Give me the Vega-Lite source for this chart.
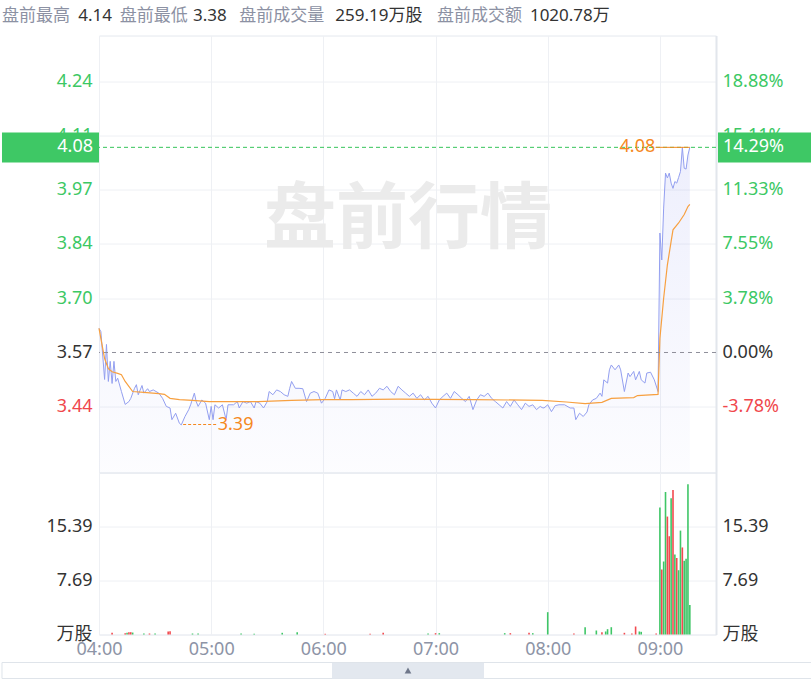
{
  "$schema": "https://vega.github.io/schema/vega-lite/v6.json",
  "background": "#ffffff",
  "padding": {"left": 0, "top": 5.5, "right": 0, "bottom": 6},
  "bounds": "flush",
  "spacing": 0,
  "config": {
    "view": {"stroke": "#e4e8ee", "strokeWidth": 1},
    "font": "'Noto Sans', 'Noto Sans CJK SC', sans-serif",
    "axis": {"domain": false, "ticks": false, "tickSize": 0, "gridColor": "#eef0f4", "gridWidth": 1, "labelFontSize": 18, "labelFont": "'Noto Sans', 'Noto Sans CJK SC', sans-serif"},
    "text": {"font": "'Noto Sans', 'Noto Sans CJK SC', sans-serif"}
  },
  "datasets": {
    "price": [
      {"time":"04:00","price":3.630},{"time":"04:01","price":3.622},{"time":"04:03","price":3.503},{"time":"04:04","price":3.590},{"time":"04:05","price":3.498},{"time":"04:06","price":3.548},{"time":"04:07","price":3.493},{"time":"04:08","price":3.548},{"time":"04:09","price":3.498},{"time":"04:10","price":3.506},{"time":"04:12","price":3.473},{"time":"04:14","price":3.441},{"time":"04:16","price":3.448},{"time":"04:17","price":3.456},{"time":"04:19","price":3.481},{"time":"04:20","price":3.490},{"time":"04:21","price":3.465},{"time":"04:23","price":3.488},{"time":"04:24","price":3.469},{"time":"04:26","price":3.480},{"time":"04:27","price":3.473},{"time":"04:29","price":3.477},{"time":"04:32","price":3.469},{"time":"04:34","price":3.456},{"time":"04:36","price":3.436},{"time":"04:38","price":3.432},{"time":"04:39","price":3.403},{"time":"04:41","price":3.419},{"time":"04:43","price":3.394},{"time":"04:44","price":3.390},{"time":"04:46","price":3.411},{"time":"04:48","price":3.428},{"time":"04:49","price":3.440},{"time":"04:51","price":3.469},{"time":"04:52","price":3.448},{"time":"04:53","price":3.436},{"time":"04:55","price":3.452},{"time":"04:57","price":3.444},{"time":"04:59","price":3.403},{"time":"05:00","price":3.436},{"time":"05:01","price":3.403},{"time":"05:02","price":3.440},{"time":"05:04","price":3.432},{"time":"05:06","price":3.440},{"time":"05:08","price":3.403},{"time":"05:09","price":3.440},{"time":"05:12","price":3.440},{"time":"05:14","price":3.448},{"time":"05:15","price":3.432},{"time":"05:17","price":3.448},{"time":"05:19","price":3.444},{"time":"05:21","price":3.448},{"time":"05:23","price":3.432},{"time":"05:24","price":3.448},{"time":"05:26","price":3.444},{"time":"05:28","price":3.432},{"time":"05:30","price":3.448},{"time":"05:31","price":3.473},{"time":"05:33","price":3.465},{"time":"05:35","price":3.477},{"time":"05:37","price":3.473},{"time":"05:39","price":3.465},{"time":"05:41","price":3.461},{"time":"05:42","price":3.481},{"time":"05:43","price":3.498},{"time":"05:45","price":3.481},{"time":"05:47","price":3.481},{"time":"05:49","price":3.480},{"time":"05:51","price":3.448},{"time":"05:53","price":3.469},{"time":"05:55","price":3.473},{"time":"05:57","price":3.469},{"time":"05:59","price":3.444},{"time":"06:01","price":3.456},{"time":"06:03","price":3.477},{"time":"06:05","price":3.473},{"time":"06:06","price":3.455},{"time":"06:07","price":3.477},{"time":"06:09","price":3.452},{"time":"06:10","price":3.477},{"time":"06:12","price":3.473},{"time":"06:14","price":3.477},{"time":"06:16","price":3.469},{"time":"06:18","price":3.461},{"time":"06:20","price":3.473},{"time":"06:22","price":3.465},{"time":"06:24","price":3.477},{"time":"06:26","price":3.461},{"time":"06:28","price":3.469},{"time":"06:30","price":3.481},{"time":"06:32","price":3.477},{"time":"06:34","price":3.486},{"time":"06:36","price":3.473},{"time":"06:38","price":3.465},{"time":"06:40","price":3.486},{"time":"06:42","price":3.477},{"time":"06:44","price":3.469},{"time":"06:46","price":3.461},{"time":"06:48","price":3.469},{"time":"06:50","price":3.456},{"time":"06:52","price":3.465},{"time":"06:54","price":3.452},{"time":"06:56","price":3.461},{"time":"06:58","price":3.444},{"time":"07:00","price":3.432},{"time":"07:02","price":3.452},{"time":"07:04","price":3.461},{"time":"07:06","price":3.469},{"time":"07:08","price":3.456},{"time":"07:10","price":3.473},{"time":"07:12","price":3.465},{"time":"07:14","price":3.456},{"time":"07:16","price":3.448},{"time":"07:18","price":3.461},{"time":"07:20","price":3.428},{"time":"07:22","price":3.452},{"time":"07:24","price":3.465},{"time":"07:26","price":3.461},{"time":"07:28","price":3.469},{"time":"07:30","price":3.456},{"time":"07:32","price":3.448},{"time":"07:34","price":3.440},{"time":"07:36","price":3.432},{"time":"07:38","price":3.448},{"time":"07:40","price":3.436},{"time":"07:42","price":3.452},{"time":"07:44","price":3.440},{"time":"07:46","price":3.428},{"time":"07:48","price":3.444},{"time":"07:50","price":3.436},{"time":"07:52","price":3.440},{"time":"07:54","price":3.428},{"time":"07:56","price":3.436},{"time":"07:57","price":3.433},{"time":"07:58","price":3.432},{"time":"08:00","price":3.440},{"time":"08:02","price":3.423},{"time":"08:04","price":3.438},{"time":"08:06","price":3.440},{"time":"08:09","price":3.440},{"time":"08:12","price":3.432},{"time":"08:14","price":3.432},{"time":"08:15","price":3.403},{"time":"08:17","price":3.419},{"time":"08:19","price":3.411},{"time":"08:21","price":3.422},{"time":"08:22","price":3.440},{"time":"08:24","price":3.452},{"time":"08:26","price":3.456},{"time":"08:28","price":3.469},{"time":"08:29","price":3.461},{"time":"08:30","price":3.502},{"time":"08:32","price":3.494},{"time":"08:33","price":3.527},{"time":"08:34","price":3.539},{"time":"08:36","price":3.527},{"time":"08:38","price":3.539},{"time":"08:39","price":3.527},{"time":"08:41","price":3.473},{"time":"08:43","price":3.519},{"time":"08:44","price":3.510},{"time":"08:46","price":3.523},{"time":"08:47","price":3.502},{"time":"08:49","price":3.523},{"time":"08:50","price":3.502},{"time":"08:52","price":3.494},{"time":"08:53","price":3.519},{"time":"08:55","price":3.521},{"time":"08:57","price":3.502},{"time":"08:59","price":3.473},{"time":"09:00","price":3.867},{"time":"09:01","price":3.800},{"time":"09:02","price":3.929},{"time":"09:03","price":4.016},{"time":"09:04","price":4.004},{"time":"09:05","price":4.016},{"time":"09:06","price":3.991},{"time":"09:07","price":3.978},{"time":"09:08","price":3.995},{"time":"09:09","price":3.991},{"time":"09:10","price":4.005},{"time":"09:11","price":4.020},{"time":"09:12","price":4.080},{"time":"09:13","price":4.028},{"time":"09:14","price":4.026},{"time":"09:15","price":4.061},{"time":"09:16","price":4.080}
    ],
    "avg": [
      {"time":"04:00","avg":3.630},{"time":"04:03","avg":3.555},{"time":"04:05","avg":3.530},{"time":"04:07","avg":3.522},{"time":"04:10","avg":3.518},{"time":"04:12","avg":3.515},{"time":"04:14","avg":3.498},{"time":"04:18","avg":3.473},{"time":"04:24","avg":3.471},{"time":"04:32","avg":3.468},{"time":"04:35","avg":3.466},{"time":"04:38","avg":3.456},{"time":"04:43","avg":3.453},{"time":"04:50","avg":3.451},{"time":"04:59","avg":3.448},{"time":"05:25","avg":3.448},{"time":"05:43","avg":3.451},{"time":"06:00","avg":3.453},{"time":"06:15","avg":3.453},{"time":"06:40","avg":3.454},{"time":"07:20","avg":3.453},{"time":"07:57","avg":3.451},{"time":"08:10","avg":3.447},{"time":"08:20","avg":3.443},{"time":"08:29","avg":3.446},{"time":"08:34","avg":3.456},{"time":"08:46","avg":3.458},{"time":"08:48","avg":3.463},{"time":"08:59","avg":3.466},{"time":"09:00","avg":3.605},{"time":"09:02","avg":3.705},{"time":"09:04","avg":3.788},{"time":"09:06","avg":3.846},{"time":"09:07","avg":3.875},{"time":"09:10","avg":3.892},{"time":"09:13","avg":3.913},{"time":"09:15","avg":3.933},{"time":"09:16","avg":3.938}
    ],
    "vol": [
      {"time":"04:07","vol":0.24,"dir":"up"},{"time":"04:14","vol":0.19,"dir":"up"},{"time":"04:15","vol":0.24,"dir":"down"},{"time":"04:16","vol":0.33,"dir":"up"},{"time":"04:17","vol":0.33,"dir":"up"},{"time":"04:18","vol":0.28,"dir":"down"},{"time":"04:24","vol":0.14,"dir":"down"},{"time":"04:27","vol":0.14,"dir":"up"},{"time":"04:30","vol":0.14,"dir":"down"},{"time":"04:37","vol":0.43,"dir":"up"},{"time":"04:38","vol":0.47,"dir":"up"},{"time":"04:50","vol":0.14,"dir":"down"},{"time":"04:53","vol":0.14,"dir":"down"},{"time":"05:16","vol":0.14,"dir":"down"},{"time":"05:23","vol":0.10,"dir":"down"},{"time":"05:38","vol":0.24,"dir":"down"},{"time":"05:46","vol":0.33,"dir":"down"},{"time":"06:01","vol":0.10,"dir":"up"},{"time":"06:25","vol":0.10,"dir":"up"},{"time":"06:32","vol":0.24,"dir":"up"},{"time":"06:56","vol":0.14,"dir":"down"},{"time":"07:00","vol":0.19,"dir":"up"},{"time":"07:02","vol":0.19,"dir":"down"},{"time":"07:37","vol":0.19,"dir":"down"},{"time":"07:40","vol":0.19,"dir":"up"},{"time":"07:50","vol":0.24,"dir":"up"},{"time":"07:52","vol":0.19,"dir":"down"},{"time":"08:00","vol":3.18,"dir":"down"},{"time":"08:14","vol":0.14,"dir":"up"},{"time":"08:20","vol":1.04,"dir":"down"},{"time":"08:26","vol":0.57,"dir":"down"},{"time":"08:29","vol":0.33,"dir":"up"},{"time":"08:31","vol":0.43,"dir":"down"},{"time":"08:32","vol":0.76,"dir":"down"},{"time":"08:34","vol":1.04,"dir":"down"},{"time":"08:41","vol":0.24,"dir":"up"},{"time":"08:45","vol":0.14,"dir":"up"},{"time":"08:47","vol":1.14,"dir":"up"},{"time":"08:49","vol":0.43,"dir":"down"},{"time":"08:50","vol":0.38,"dir":"down"},{"time":"08:58","vol":0.14,"dir":"up"},
      {"time":"09:00","vol":18.1,"dir":"down"},{"time":"09:01","vol":9.26,"dir":"up"},{"time":"09:02","vol":10.4,"dir":"down"},{"time":"09:03","vol":20.3,"dir":"down"},{"time":"09:04","vol":16.8,"dir":"up"},{"time":"09:05","vol":14.0,"dir":"up"},{"time":"09:06","vol":19.4,"dir":"down"},{"time":"09:07","vol":20.6,"dir":"up"},{"time":"09:08","vol":11.4,"dir":"down"},{"time":"09:09","vol":10.9,"dir":"up"},{"time":"09:10","vol":9.16,"dir":"down"},{"time":"09:11","vol":14.8,"dir":"down"},{"time":"09:12","vol":12.4,"dir":"up"},{"time":"09:13","vol":10.5,"dir":"down"},{"time":"09:14","vol":10.8,"dir":"down"},{"time":"09:15","vol":21.4,"dir":"down"},{"time":"09:16","vol":4.2,"dir":"down"}
    ]
  },
  "vconcat": [
    {
      "width": 617,
      "height": 437,
      "resolve": {"axis": {"y": "independent"}},
      "layer": [
        {
          "data": {"values": [{}]},
          "mark": {"type": "text", "text": "盘前行情", "fontSize": 72, "fontWeight": "bold", "color": "#ebebeb", "align": "center", "baseline": "middle", "font": "'Noto Sans CJK SC', sans-serif"},
          "encoding": {
            "x": {"datum": {"year": 1900, "month": 1, "date": 1, "hours": 6, "minutes": 45, "seconds": 16}, "type": "temporal",
              "scale": {"domain": [{"year": 1900, "month": 1, "date": 1, "hours": 4, "minutes": 0}, {"year": 1900, "month": 1, "date": 1, "hours": 9, "minutes": 30}], "nice": false, "padding": 0},
              "axis": {"labels": false, "grid": true, "title": null,
                "values": [{"year": 1900, "month": 1, "date": 1, "hours": 4}, {"year": 1900, "month": 1, "date": 1, "hours": 5}, {"year": 1900, "month": 1, "date": 1, "hours": 6}, {"year": 1900, "month": 1, "date": 1, "hours": 7}, {"year": 1900, "month": 1, "date": 1, "hours": 8}, {"year": 1900, "month": 1, "date": 1, "hours": 9}]}},
            "y": {"datum": 3.9006, "type": "quantitative", "scale": {"domain": [3.2717, 4.358], "nice": false, "zero": false, "padding": 0}, "axis": null}
          }
        },
        {
          "data": {"name": "price", "format": {"parse": {"time": "date:'%H:%M'"}}},
          "resolve": {"axis": {"y": "independent"}},
          "layer": [
            {
              "mark": {"type": "area", "color": {"gradient": "linear", "x1": 0, "y1": 0, "x2": 0, "y2": 1, "stops": [{"offset": 0, "color": "rgba(120,130,235,0.13)"}, {"offset": 1, "color": "rgba(120,130,235,0.02)"}]}},
              "encoding": {
                "x": {"field": "time", "type": "temporal",
                  "scale": {"domain": [{"year": 1900, "month": 1, "date": 1, "hours": 4, "minutes": 0}, {"year": 1900, "month": 1, "date": 1, "hours": 9, "minutes": 30}], "nice": false, "padding": 0}},
                "y": {"field": "price", "type": "quantitative",
                  "scale": {"domain": [3.2717, 4.358], "nice": false, "zero": false, "padding": 0},
                  "axis": {"orient": "left", "title": null, "values": [3.43503, 3.57, 3.70497, 3.83994, 3.97491, 4.10988, 4.24485], "format": ".2f", "labelPadding": 7, "grid": true,
                    "gridOpacity": {"condition": {"test": "abs(datum.value - 3.57) < 0.001", "value": 0}, "value": 1},
                    "labelColor": {"condition": [{"test": "datum.value > 3.58", "value": "#3cc864"}, {"test": "datum.value < 3.56", "value": "#f0474c"}], "value": "#333333"}}},
                "y2": {"datum": 3.2717}
              }
            },
            {
              "mark": {"type": "line", "color": "#939ff0", "strokeWidth": 1},
              "encoding": {
                "x": {"field": "time", "type": "temporal"},
                "y": {"field": "price", "type": "quantitative",
                  "axis": {"orient": "right", "title": null, "values": [3.43503, 3.57, 3.70497, 3.83994, 3.97491, 4.10988, 4.24485], "grid": false, "labelPadding": 6, "domain": true, "domainColor": "#e2e6ec", "domainWidth": 2,
                    "labelExpr": "['-3.78%','0.00%','3.78%','7.55%','11.33%','15.11%','18.88%'][round((datum.value - 3.57) / 0.13497) + 1]",
                    "labelColor": {"condition": [{"test": "datum.value > 3.58", "value": "#3cc864"}, {"test": "datum.value < 3.56", "value": "#f0474c"}], "value": "#333333"}}}
              }
            }
          ]
        },
        {
          "data": {"name": "avg", "format": {"parse": {"time": "date:'%H:%M'"}}},
          "mark": {"type": "line", "color": "#f7a040", "strokeWidth": 1.2},
          "encoding": {
            "x": {"field": "time", "type": "temporal"},
            "y": {"field": "avg", "type": "quantitative", "axis": null}
          }
        },
        {
          "data": {"values": [{}]},
          "mark": {"type": "rule", "color": "#8f8f9a", "strokeDash": [4, 4], "strokeWidth": 1},
          "encoding": {"y": {"datum": 3.57, "type": "quantitative", "axis": null}}
        },
        {
          "data": {"values": [{}]},
          "mark": {"type": "rule", "color": "#35c45a", "strokeDash": [4, 3], "strokeWidth": 1},
          "encoding": {"y": {"datum": 4.08, "type": "quantitative", "axis": null}}
        },
        {
          "data": {"values": [{}]},
          "mark": {"type": "rule", "color": "#f5891f", "strokeDash": [3, 2], "strokeWidth": 1},
          "encoding": {
            "x": {"datum": {"year": 1900, "month": 1, "date": 1, "hours": 4, "minutes": 45}, "type": "temporal"},
            "x2": {"datum": {"year": 1900, "month": 1, "date": 1, "hours": 5, "minutes": 3}},
            "y": {"datum": 3.391, "type": "quantitative", "axis": null}
          }
        },
        {
          "data": {"values": [{}]},
          "mark": {"type": "text", "text": "3.39", "fontSize": 18, "color": "#f5891f", "align": "left", "baseline": "middle"},
          "encoding": {
            "x": {"datum": {"year": 1900, "month": 1, "date": 1, "hours": 5, "minutes": 3, "seconds": 30}, "type": "temporal"},
            "y": {"datum": 3.391, "type": "quantitative", "axis": null}
          }
        },
        {
          "data": {"values": [{}]},
          "mark": {"type": "rule", "color": "#f5891f", "strokeWidth": 1},
          "encoding": {
            "x": {"datum": {"year": 1900, "month": 1, "date": 1, "hours": 8, "minutes": 57, "seconds": 40}, "type": "temporal"},
            "x2": {"datum": {"year": 1900, "month": 1, "date": 1, "hours": 9, "minutes": 16}},
            "y": {"datum": 4.08, "type": "quantitative", "axis": null}
          }
        },
        {
          "data": {"values": [{}]},
          "mark": {"type": "text", "text": "4.08", "fontSize": 18, "color": "#f5891f", "align": "right", "baseline": "middle"},
          "encoding": {
            "x": {"datum": {"year": 1900, "month": 1, "date": 1, "hours": 8, "minutes": 57, "seconds": 30}, "type": "temporal"},
            "y": {"datum": 4.08, "type": "quantitative", "axis": null}
          }
        },
        {
          "data": {"values": [{}]},
          "mark": {"type": "text", "text": "盘前最高", "fontSize": 17, "color": "#8c91a3", "align": "left", "baseline": "middle"},
          "encoding": {
            "x": {"datum": {"year": 1900, "month": 1, "date": 1, "hours": 3, "minutes": 8, "seconds": 7}, "type": "temporal"},
            "y": {"datum": 4.4077, "type": "quantitative", "axis": null}
          }
        },
        {
          "data": {"values": [{}]},
          "mark": {"type": "text", "text": "4.14", "fontSize": 17, "color": "#333333", "align": "left", "baseline": "middle"},
          "encoding": {
            "x": {"datum": {"year": 1900, "month": 1, "date": 1, "hours": 3, "minutes": 48, "seconds": 56}, "type": "temporal"},
            "y": {"datum": 4.4077, "type": "quantitative", "axis": null}
          }
        },
        {
          "data": {"values": [{}]},
          "mark": {"type": "text", "text": "盘前最低", "fontSize": 17, "color": "#8c91a3", "align": "left", "baseline": "middle"},
          "encoding": {
            "x": {"datum": {"year": 1900, "month": 1, "date": 1, "hours": 4, "minutes": 11, "seconds": 7}, "type": "temporal"},
            "y": {"datum": 4.4077, "type": "quantitative", "axis": null}
          }
        },
        {
          "data": {"values": [{}]},
          "mark": {"type": "text", "text": "3.38", "fontSize": 17, "color": "#333333", "align": "left", "baseline": "middle"},
          "encoding": {
            "x": {"datum": {"year": 1900, "month": 1, "date": 1, "hours": 4, "minutes": 50, "seconds": 17}, "type": "temporal"},
            "y": {"datum": 4.4077, "type": "quantitative", "axis": null}
          }
        },
        {
          "data": {"values": [{}]},
          "mark": {"type": "text", "text": "盘前成交量", "fontSize": 17, "color": "#8c91a3", "align": "left", "baseline": "middle"},
          "encoding": {
            "x": {"datum": {"year": 1900, "month": 1, "date": 1, "hours": 5, "minutes": 14, "seconds": 59}, "type": "temporal"},
            "y": {"datum": 4.4077, "type": "quantitative", "axis": null}
          }
        },
        {
          "data": {"values": [{}]},
          "mark": {"type": "text", "text": "259.19万股", "fontSize": 17, "color": "#333333", "align": "left", "baseline": "middle"},
          "encoding": {
            "x": {"datum": {"year": 1900, "month": 1, "date": 1, "hours": 6, "minutes": 6, "seconds": 24}, "type": "temporal"},
            "y": {"datum": 4.4077, "type": "quantitative", "axis": null}
          }
        },
        {
          "data": {"values": [{}]},
          "mark": {"type": "text", "text": "盘前成交额", "fontSize": 17, "color": "#8c91a3", "align": "left", "baseline": "middle"},
          "encoding": {
            "x": {"datum": {"year": 1900, "month": 1, "date": 1, "hours": 7, "minutes": 0, "seconds": 47}, "type": "temporal"},
            "y": {"datum": 4.4077, "type": "quantitative", "axis": null}
          }
        },
        {
          "data": {"values": [{}]},
          "mark": {"type": "text", "text": "1020.78万", "fontSize": 17, "color": "#333333", "align": "left", "baseline": "middle"},
          "encoding": {
            "x": {"datum": {"year": 1900, "month": 1, "date": 1, "hours": 7, "minutes": 50, "seconds": 28}, "type": "temporal"},
            "y": {"datum": 4.4077, "type": "quantitative", "axis": null}
          }
        },
        {
          "data": {"values": [{}]},
          "mark": {"type": "rect", "color": "#3ec865"},
          "encoding": {
            "x": {"datum": {"year": 1900, "month": 1, "date": 1, "hours": 3, "minutes": 8, "seconds": 7}, "type": "temporal"},
            "x2": {"datum": {"year": 1900, "month": 1, "date": 1, "hours": 4, "minutes": 0}},
            "y": {"datum": 4.1169, "type": "quantitative", "axis": null},
            "y2": {"datum": 4.0423}
          }
        },
        {
          "data": {"values": [{}]},
          "mark": {"type": "text", "text": "4.08", "fontSize": 18, "color": "#ffffff", "align": "right", "baseline": "middle"},
          "encoding": {
            "x": {"datum": {"year": 1900, "month": 1, "date": 1, "hours": 3, "minutes": 56, "seconds": 47}, "type": "temporal"},
            "y": {"datum": 4.08, "type": "quantitative", "axis": null}
          }
        },
        {
          "data": {"values": [{}]},
          "mark": {"type": "rect", "color": "#3ec865"},
          "encoding": {
            "x": {"datum": {"year": 1900, "month": 1, "date": 1, "hours": 9, "minutes": 31, "seconds": 4}, "type": "temporal"},
            "x2": {"datum": {"year": 1900, "month": 1, "date": 1, "hours": 10, "minutes": 21, "seconds": 53}},
            "y": {"datum": 4.1169, "type": "quantitative", "axis": null},
            "y2": {"datum": 4.0423}
          }
        },
        {
          "data": {"values": [{}]},
          "mark": {"type": "text", "text": "14.29%", "fontSize": 18, "color": "#ffffff", "align": "left", "baseline": "middle"},
          "encoding": {
            "x": {"datum": {"year": 1900, "month": 1, "date": 1, "hours": 9, "minutes": 33, "seconds": 44}, "type": "temporal"},
            "y": {"datum": 4.08, "type": "quantitative", "axis": null}
          }
        }
      ]
    },
    {
      "width": 617,
      "height": 162,
      "resolve": {"axis": {"y": "independent"}},
      "layer": [
        {
          "data": {"name": "vol", "format": {"parse": {"time": "date:'%H:%M'"}}},
          "resolve": {"axis": {"y": "independent"}},
          "layer": [
            {
              "mark": {"type": "bar", "width": 1.6},
              "encoding": {
                "x": {"field": "time", "type": "temporal",
                  "scale": {"domain": [{"year": 1900, "month": 1, "date": 1, "hours": 4, "minutes": 0}, {"year": 1900, "month": 1, "date": 1, "hours": 9, "minutes": 30}], "nice": false, "padding": 0},
                  "axis": {"title": null, "format": "%H:%M", "grid": true, "labelColor": "#8d94a6", "labelFontSize": 18, "labelPadding": 6, "labelFlush": false, "labelOverlap": false, "labelBound": false,
                    "values": [{"year": 1900, "month": 1, "date": 1, "hours": 4}, {"year": 1900, "month": 1, "date": 1, "hours": 5}, {"year": 1900, "month": 1, "date": 1, "hours": 6}, {"year": 1900, "month": 1, "date": 1, "hours": 7}, {"year": 1900, "month": 1, "date": 1, "hours": 8}, {"year": 1900, "month": 1, "date": 1, "hours": 9}]}},
                "y": {"field": "vol", "type": "quantitative",
                  "scale": {"domain": [0, 23.079], "nice": false, "padding": 0},
                  "axis": {"orient": "left", "title": null, "values": [0, 7.693, 15.386], "grid": true, "labelPadding": 7, "labelColor": "#333333",
                    "labelExpr": "datum.value == 0 ? '万股' : format(datum.value, '.2f')"}},
                "color": {"field": "dir", "type": "nominal", "scale": {"domain": ["up", "down"], "range": ["#f24a4f", "#3fc667"]}, "legend": null}
              }
            },
            {
              "mark": {"type": "bar", "width": 1.6, "opacity": 0},
              "encoding": {
                "x": {"field": "time", "type": "temporal"},
                "y": {"field": "vol", "type": "quantitative",
                  "axis": {"orient": "right", "title": null, "values": [0, 7.693, 15.386], "grid": false, "labelPadding": 6, "labelColor": "#333333", "domain": true, "domainColor": "#e2e6ec", "domainWidth": 2,
                    "labelExpr": "datum.value == 0 ? '万股' : format(datum.value, '.2f')"}}
              }
            }
          ]
        },
        {
          "data": {"values": [{}]},
          "mark": {"type": "rect", "fill": "#ffffff", "stroke": "#dfe4ea", "strokeWidth": 1},
          "encoding": {
            "x": {"datum": {"year": 1900, "month": 1, "date": 1, "hours": 3, "minutes": 8, "seconds": 7}, "type": "temporal"},
            "x2": {"datum": {"year": 1900, "month": 1, "date": 1, "hours": 10, "minutes": 21, "seconds": 53}},
            "y": {"datum": -3.989, "type": "quantitative", "axis": null},
            "y2": {"datum": -6.268}
          }
        },
        {
          "data": {"values": [{}]},
          "mark": {"type": "rect", "fill": "#e3e8ef"},
          "encoding": {
            "x": {"datum": {"year": 1900, "month": 1, "date": 1, "hours": 6, "minutes": 4, "seconds": 37}, "type": "temporal"},
            "x2": {"datum": {"year": 1900, "month": 1, "date": 1, "hours": 7, "minutes": 25, "seconds": 55}},
            "y": {"datum": -4.06, "type": "quantitative", "axis": null},
            "y2": {"datum": -6.268}
          }
        },
        {
          "data": {"values": [{}]},
          "mark": {"type": "point", "shape": "triangle-up", "filled": true, "size": 45, "color": "#6f778a", "opacity": 1},
          "encoding": {
            "x": {"datum": {"year": 1900, "month": 1, "date": 1, "hours": 6, "minutes": 45, "seconds": 16}, "type": "temporal"},
            "y": {"datum": -5.13, "type": "quantitative", "axis": null}
          }
        }
      ]
    }
  ]
}
